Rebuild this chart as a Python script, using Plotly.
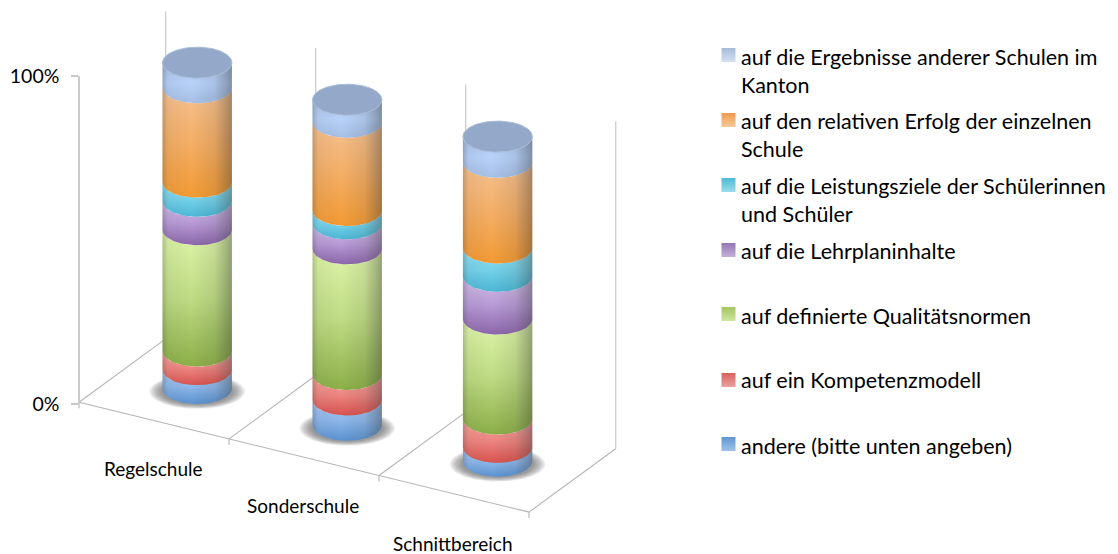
import numpy as np
import plotly.graph_objects as go

W, H = 1118, 554

categories = ["Regelschule", "Sonderschule", "Schnittbereich"]
series_names = [
    "andere (bitte unten angeben)",
    "auf ein Kompetenzmodell",
    "auf definierte Qualitätsnormen",
    "auf die Lehrplaninhalte",
    "auf die Leistungsziele der Schülerinnen\nund Schüler",
    "auf den relativen Erfolg der einzelnen\nSchule",
    "auf die Ergebnisse anderer Schulen im\nKanton",
]
andere = [5.8, 7.8, 4.3]
kompetenz = [5.7, 7.8, 8.7]
qualitaet = [37.3, 38.6, 30.8]
lehrplan = [8.7, 7.7, 13.2]
leistung = [5.9, 4.1, 8.7]
erfolg = [29.0, 27.1, 26.4]
ergebnisse = [7.7, 6.9, 7.9]
series_values = [andere, kompetenz, qualitaet, lehrplan, leistung, erfolg, ergebnisse]

# vertical shading of each series: top, middle, bottom of a segment
shades = [
    ("#a6caf6", "#8db7ea", "#5a92d0"),
    ("#f8a6a1", "#ee8580", "#d8534f"),
    ("#dff6ab", "#bfdc84", "#8caf48"),
    ("#d6c0ea", "#b79ad6", "#8d67ab"),
    ("#95e2f3", "#74d2ea", "#4cb7d5"),
    ("#f6c291", "#f4ae65", "#f39a33"),
    ("#a9c2e8", "#b8d2fa", "#a6bfe5"),
]
legend_colors = ["#5f95cf", "#d9605c", "#a3c55e", "#9377b4", "#4fb9d3", "#ee9a4c", "#a6bcdc"]
legend_tops = ["#9fc3ea", "#eaa3a0", "#cfe5a3", "#c3b0d8", "#9adcec", "#f6c99c", "#d3dff0"]
CAP = "#94a9c9"

# picture geometry
CX = [197.2, 347.2, 497.6]
BASE = [388.5, 425.3, 461.2]
TOP = [63.0, 99.7, 136.6]
RX, RY = 34.7, 15.5
Y_AXES = ["y2", "y3", "y4"]

fig = go.Figure()
t = np.linspace(0, 2 * np.pi, 121)


def px_line(xs, ys, color, width=1.1):
    fig.add_trace(go.Scatter(x=xs, y=ys, mode="lines", yaxis="y", showlegend=False, hoverinfo="skip",
                             line=dict(color=color, width=width)))


# floor and rear lines
ORIGIN = np.array([79.0, 402.3])
STEP = np.array([150.0, 36.6])
DEPTH = np.array([86.7, -63.4])
WALL = 327.5
FLOOR_C, WALL_C = "#b4b4b4", "#cfcfcf"
front_end = ORIGIN + 3 * STEP
px_line([ORIGIN[0], front_end[0]], [ORIGIN[1], front_end[1]], FLOOR_C)
for i in range(4):
    f = ORIGIN + i * STEP
    b = f + DEPTH
    px_line([f[0], b[0]], [f[1], b[1]], FLOOR_C)
    px_line([b[0], b[0]], [b[1], b[1] - WALL], WALL_C, 1.4)
    px_line([f[0], f[0]], [f[1], f[1] + 6], FLOOR_C)

# soft shadows under the cylinders
for cx, p0 in zip(CX, BASE):
    for k in range(12):
        rx, ry = 48.0 - 1.1 * k, 17.5 - 0.4 * k
        fig.add_trace(go.Scatter(x=cx + rx * np.cos(t), y=p0 + 3.0 + ry * np.sin(t), mode="lines", yaxis="y",
                                 fill="toself", fillcolor="rgba(90,90,90,0.075)", line=dict(width=0),
                                 showlegend=False, hoverinfo="skip"))

# cylinder bodies: one stacked segment per series, in the cylinder's own y axis
arc = np.linspace(np.pi, 0, 61)
for c, cx in enumerate(CX):
    scale = (BASE[c] - TOP[c]) / 100
    ry_v = RY / scale
    low = 0.0
    for s, vals in enumerate(series_values):
        high = low + vals[c]
        xs = np.r_[cx + RX * np.cos(arc), cx + RX * np.cos(arc[::-1])]
        ys = np.r_[low - ry_v * np.sin(arc), high - ry_v * np.sin(arc[::-1])]
        top_c, mid_c, bot_c = shades[s]
        fig.add_trace(go.Scatter(
            x=xs, y=ys, mode="lines", yaxis=Y_AXES[c], fill="toself", line=dict(width=0),
            name=series_names[s].replace("\n", " "), showlegend=False, hoverinfo="skip",
            fillgradient=dict(type="vertical", colorscale=[[0, bot_c], [0.5, mid_c], [1, top_c]]),
        ))
        low = high
    # side shading over the whole cylinder
    xs = np.r_[cx + RX * np.cos(arc), cx + RX * np.cos(arc[::-1])]
    ys = np.r_[-ry_v * np.sin(arc), low - ry_v * np.sin(arc[::-1])]
    fig.add_trace(go.Scatter(
        x=xs, y=ys, mode="lines", yaxis=Y_AXES[c], fill="toself", line=dict(width=0),
        showlegend=False, hoverinfo="skip",
        fillgradient=dict(type="horizontal", colorscale=[
            [0, "rgba(50,50,50,0.26)"], [0.08, "rgba(50,50,50,0.06)"], [0.42, "rgba(50,50,50,0)"],
            [0.75, "rgba(50,50,50,0.10)"], [0.93, "rgba(50,50,50,0.32)"], [1, "rgba(50,50,50,0.42)"]]),
    ))
    # top cap at the stack's total
    fig.add_trace(go.Scatter(
        x=cx + RX * np.cos(t), y=low + ry_v * np.sin(t), mode="lines", yaxis=Y_AXES[c], fill="toself",
        fillcolor=CAP, line=dict(width=1, color="#a8bcd8"), showlegend=False, hoverinfo="skip",
    ))

# legend swatches and texts
LEG_X, LEG_TX = 728.5, 739
LEG_MY = [444, 380, 314, 250, 185, 120, 55]
LEG_TY = [446, 380, 316, 251, 186, 121, 57]
annotations = []
fs = 21.5
font_name = "Lato"
fig.add_trace(go.Scatter(
    x=[LEG_X] * 7, y=LEG_MY, mode="markers", yaxis="y", showlegend=False, hoverinfo="skip",
    marker=dict(symbol="square", size=14, color=legend_colors, line=dict(width=0),
                gradient=dict(type="vertical", color=legend_tops)),
))
for name, ty in zip(series_names, LEG_TY):
    for j, line in enumerate(name.split("\n")):
        annotations.append(dict(x=LEG_TX, y=ty + 27.5 * j, xref="x", yref="y", text=line, showarrow=False,
                                xanchor="left", yanchor="middle", font=dict(family=font_name, size=fs, color="#000")))

# category labels
for name, lx, ly in zip(categories, [153, 303, 453], [468, 505, 543]):
    annotations.append(dict(x=lx, y=ly, xref="x", yref="y", text=name, showarrow=False,
                            xanchor="center", yanchor="middle", font=dict(family=font_name, size=19, color="#000")))

layout_axes = {}
for name, p0, p1 in zip(["yaxis2", "yaxis3", "yaxis4"], BASE, TOP):
    s = (p0 - p1) / 100
    layout_axes[name] = dict(overlaying="y", domain=[0, 1], range=[(p0 - H) / s, p0 / s], visible=False)

fig.update_layout(
    width=W, height=H, margin=dict(l=0, r=0, t=0, b=0, autoexpand=False),
    paper_bgcolor="white", plot_bgcolor="rgba(0,0,0,0)",
    showlegend=False, annotations=annotations,
    xaxis=dict(range=[0, W], domain=[0, 1], visible=False, automargin=False),
    yaxis=dict(range=[H, 0], domain=[0, 1], visible=False, automargin=False),
    yaxis5=dict(anchor="free", position=ORIGIN[0] / W, automargin=False,
                domain=[(H - ORIGIN[1] - 1.5) / H, (H - 76.0) / H], range=[0, 100],
                tickmode="array", tickvals=[0, 100], ticktext=["0%", "100%"],
                ticks="outside", ticklen=7, tickcolor="#c8c8c8", tickwidth=1.5,
                showline=True, linecolor="#cccccc", linewidth=1.5, showgrid=False, zeroline=False,
                ticklabelstandoff=8, tickfont=dict(family=font_name, size=19.5, color="#000")),
    **layout_axes,
)
fig.add_trace(go.Scatter(x=[None], y=[None], yaxis="y5", showlegend=False, hoverinfo="skip"))
fig.write_html("out.html", config=dict(displayModeBar=False),
               post_script="document.body.style.margin='0';document.body.style.overflow='hidden';")
